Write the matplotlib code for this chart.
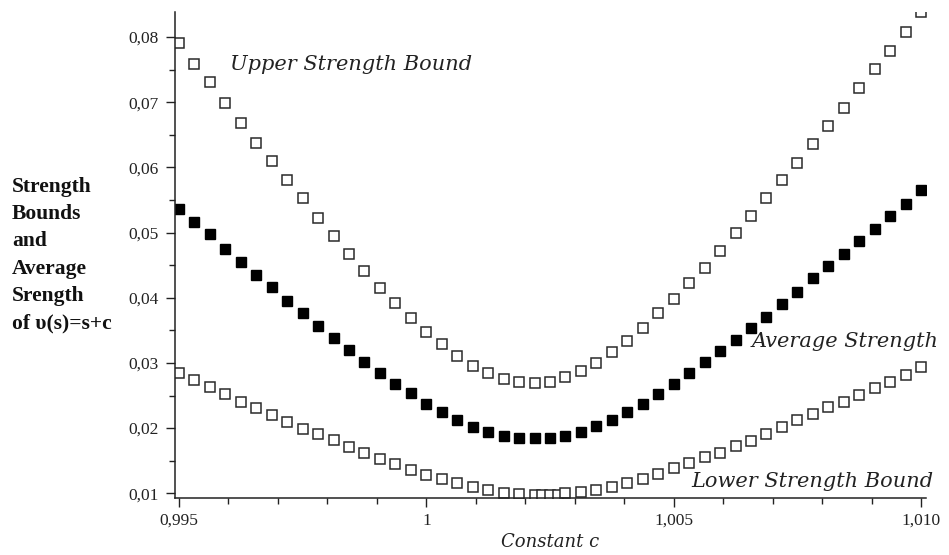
import matplotlib.pyplot as plt
from matplotlib.ticker import MultipleLocator

# constant c (grid shared by upper bound and average strength)
c_values = [0.9950000, 0.9953125, 0.9956250, 0.9959375, 0.9962500, 0.9965625,
            0.9968750, 0.9971875, 0.9975000, 0.9978125, 0.9981250, 0.9984375,
            0.9987500, 0.9990625, 0.9993750, 0.9996875, 1.0000000, 1.0003125,
            1.0006250, 1.0009375, 1.0012500, 1.0015625, 1.0018750, 1.0021875,
            1.0025000, 1.0028125, 1.0031250, 1.0034375, 1.0037500, 1.0040625,
            1.0043750, 1.0046875, 1.0050000, 1.0053125, 1.0056250, 1.0059375,
            1.0062500, 1.0065625, 1.0068750, 1.0071875, 1.0075000, 1.0078125,
            1.0081250, 1.0084375, 1.0087500, 1.0090625, 1.0093750, 1.0096875,
            1.0100000]

upper_bound = [0.07914, 0.07592, 0.07305, 0.06994, 0.06687, 0.06381, 0.06094,
               0.05803, 0.05527, 0.05231, 0.04944, 0.04673, 0.04412, 0.04147,
               0.03917, 0.03692, 0.03470, 0.03284, 0.03100, 0.02959, 0.02840,
               0.02752, 0.02711, 0.02699, 0.02714, 0.02791, 0.02875, 0.03002,
               0.03163, 0.03342, 0.03531, 0.03759, 0.03983, 0.04229, 0.04454,
               0.04719, 0.04986, 0.05256, 0.05527, 0.05803, 0.06071, 0.06355,
               0.06641, 0.06911, 0.07218, 0.07504, 0.07791, 0.08076, 0.08383]

average_strength = [0.05369, 0.05159, 0.04975, 0.04750, 0.04546, 0.04342, 0.04158,
                    0.03948, 0.03764, 0.03565, 0.03376, 0.03192, 0.03008, 0.02844,
                    0.02680, 0.02538, 0.02369, 0.02251, 0.02128, 0.02021, 0.01940,
                    0.01878, 0.01843, 0.01843, 0.01843, 0.01878, 0.01940, 0.02027,
                    0.02128, 0.02249, 0.02369, 0.02527, 0.02676, 0.02840, 0.03008,
                    0.03177, 0.03350, 0.03539, 0.03703, 0.03910, 0.04094, 0.04296,
                    0.04480, 0.04664, 0.04872, 0.05056, 0.05262, 0.05446, 0.05650]

# lower bound has two extra samples near its minimum
lower_c = [0.9950000, 0.9953125, 0.9956250, 0.9959375, 0.9962500, 0.9965625,
           0.9968750, 0.9971875, 0.9975000, 0.9978125, 0.9981250, 0.9984375,
           0.9987500, 0.9990625, 0.9993750, 0.9996875, 1.0000000, 1.0003125,
           1.0006250, 1.0009375, 1.0012500, 1.0015625, 1.0018750, 1.0021875,
           1.0023438, 1.0025000, 1.0026563, 1.0028125, 1.0031250, 1.0034375,
           1.0037500, 1.0040625, 1.0043750, 1.0046875, 1.0050000, 1.0053125,
           1.0056250, 1.0059375, 1.0062500, 1.0065625, 1.0068750, 1.0071875,
           1.0075000, 1.0078125, 1.0081250, 1.0084375, 1.0087500, 1.0090625,
           1.0093750, 1.0096875, 1.0100000]

lower_bound = [0.02840, 0.02737, 0.02630, 0.02527, 0.02403, 0.02303, 0.02200,
               0.02098, 0.01993, 0.01914, 0.01812, 0.01707, 0.01625, 0.01523,
               0.01442, 0.01360, 0.01277, 0.01216, 0.01155, 0.01092, 0.01051,
               0.01009, 0.00989, 0.00974, 0.00974, 0.00974, 0.00974, 0.00997,
               0.01012, 0.01052, 0.01095, 0.01158, 0.01216, 0.01300, 0.01380,
               0.01460, 0.01549, 0.01625, 0.01730, 0.01806, 0.01909, 0.02019,
               0.02121, 0.02222, 0.02326, 0.02404, 0.02507, 0.02610, 0.02714,
               0.02814, 0.02941]

x_ticks = [0.995, 1.0, 1.005, 1.010]
x_tick_labels = ['0,995', '1', '1,005', '1,010']
y_ticks = [0.01, 0.02, 0.03, 0.04, 0.05, 0.06, 0.07, 0.08]
y_tick_labels = ['0,01', '0,02', '0,03', '0,04', '0,05', '0,06', '0,07', '0,08']

fig = plt.figure(figsize=(9.49, 5.55), dpi=100)
ax = fig.add_axes([0.1844, 0.1022, 0.7914, 0.8768])

open_style = dict(linestyle='none', marker='s', markersize=7.4,
                  markerfacecolor='white', markeredgecolor='#2a2a2a',
                  markeredgewidth=1.1)
ax.plot(c_values, upper_bound, **open_style)
ax.plot(lower_c, lower_bound, **open_style)
ax.plot(c_values, average_strength, linestyle='none', marker='s',
        markersize=6.6, color='black')

ax.set_xlim(0.99492, 1.0101)
ax.set_ylim(0.00923, 0.0839)

ax.spines['top'].set_visible(False)
ax.spines['right'].set_visible(False)
for s in ('left', 'bottom'):
    ax.spines[s].set_linewidth(1.1)
    ax.spines[s].set_color('#222222')

ax.set_xticks(x_ticks)
ax.set_xticklabels(x_tick_labels)
ax.set_yticks(y_ticks)
ax.set_yticklabels(y_tick_labels)
ax.xaxis.set_minor_locator(MultipleLocator(0.001))
ax.yaxis.set_minor_locator(MultipleLocator(0.005))
ax.tick_params(which='major', length=6.5, width=1.0, color='#222222', pad=5)
ax.tick_params(which='minor', length=4, width=1.0, color='#222222')
ax.tick_params(axis='x', which='major', pad=4)
for lab in ax.get_xticklabels() + ax.get_yticklabels():
    lab.set_family('Liberation Serif')
    lab.set_fontsize(12.5)
    lab.set_color('#222222')

ax.set_xlabel('Constant c', family='DejaVu Serif', style='italic',
              fontsize=13, labelpad=3, color='#222222')

ann = dict(family='DejaVu Serif', style='italic', fontsize=15,
           color='#222222', va='baseline', ha='left')
ax.text(0.99603, 0.07489, 'Upper Strength Bound', **ann)
ax.text(1.00658, 0.03247, 'Average Strength', **ann)
ax.text(1.00535, 0.01097, 'Lower Strength Bound', **ann)

fig.text(0.0126, 0.5405, 'Strength\nBounds\nand\nAverage\nSrength\nof \u03c5(s)=s+c',
         family='Liberation Serif', fontweight='bold', fontsize=15.5,
         linespacing=1.48, ha='left', va='center', color='#111111')

fig.savefig('out.png', dpi=100)
